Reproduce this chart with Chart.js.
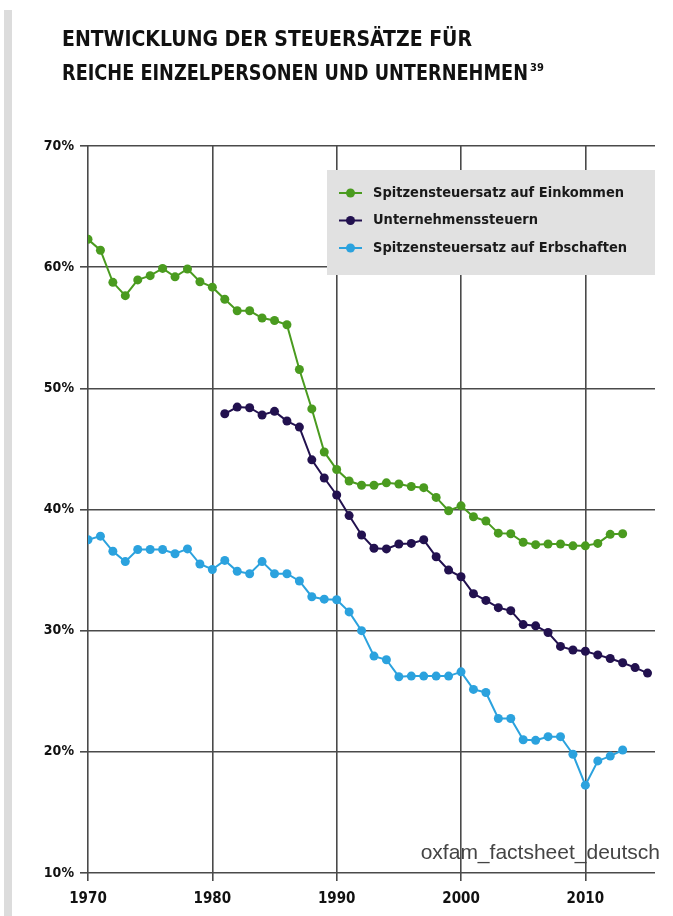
<!DOCTYPE html>
<html>
<head>
<meta charset="utf-8">
<script src="https://cdn.jsdelivr.net/npm/chart.js@4"></script>
<style>
  html, body { margin: 0; padding: 0; background: #fff; }
  #wrap { position: relative; width: 673px; height: 916px; }
  #bar { position: absolute; left: 4px; top: 10px; bottom: 0; width: 8px; background: #dcdcdc; }
  canvas { position: absolute; left: 0; top: 0; }
</style>
</head>
<body>
<div id="wrap">
  <div id="bar"></div>
  <canvas id="taxChart" width="673" height="916"></canvas>
</div>
<script>
// Jahre und Steuersätze (in %)
const years = [
  1970, 1971, 1972, 1973, 1974, 1975, 1976, 1977, 1978, 1979,
  1980, 1981, 1982, 1983, 1984, 1985, 1986, 1987, 1988, 1989,
  1990, 1991, 1992, 1993, 1994, 1995, 1996, 1997, 1998, 1999,
  2000, 2001, 2002, 2003, 2004, 2005, 2006, 2007, 2008, 2009,
  2010, 2011, 2012, 2013, 2014, 2015
];

const einkommen = [
  62.3, 61.4, 58.75, 57.65, 58.95, 59.3, 59.9, 59.2, 59.85, 58.8,
  58.35, 57.35, 56.4, 56.4, 55.8, 55.6, 55.25, 51.55, 48.3, 44.75,
  43.3, 42.35, 42.0, 42.0, 42.2, 42.1, 41.9, 41.8, 41.0, 39.9,
  40.3, 39.4, 39.05, 38.05, 38.0, 37.3, 37.1, 37.15, 37.15, 37.0,
  37.0, 37.2, 37.95, 38.0, null, null
];

const unternehmen = [
  null, null, null, null, null, null, null, null, null, null,
  null, 47.9, 48.45, 48.4, 47.8, 48.1, 47.3, 46.8, 44.1, 42.6,
  41.2, 39.5, 37.9, 36.8, 36.75, 37.15, 37.2, 37.5, 36.1, 35.0,
  34.45, 33.05, 32.5, 31.9, 31.65, 30.5, 30.4, 29.85, 28.7, 28.4,
  28.3, 28.0, 27.7, 27.35, 26.95, 26.5
];

const erbschaften = [
  37.5, 37.8, 36.55, 35.7, 36.7, 36.7, 36.7, 36.35, 36.75, 35.5,
  35.05, 35.8, 34.9, 34.7, 35.7, 34.7, 34.7, 34.1, 32.8, 32.6,
  32.55, 31.55, 30.0, 27.9, 27.6, 26.2, 26.25, 26.25, 26.25, 26.25,
  26.6, 25.15, 24.9, 22.75, 22.75, 21.0, 20.95, 21.25, 21.25, 19.8,
  17.25, 19.25, 19.65, 20.15, null, null
];

const seriesNames  = ['Spitzensteuersatz auf Einkommen', 'Unternehmenssteuern', 'Spitzensteuersatz auf Erbschaften'];
const seriesColors = ['#4a9b1f', '#22114f', '#2ba2de'];
const titleLines   = ['ENTWICKLUNG DER STEUERSÄTZE FÜR', 'REICHE EINZELPERSONEN UND UNTERNEHMEN'];
const titleNote    = '39';
const sourceText   = 'oxfam_factsheet_deutsch';

const condensed = "'Liberation Sans Narrow', 'DejaVu Sans Condensed', sans-serif";
const gridCol   = '#4a4a4a';

const toPoints = vals => years.map((y, i) => ({ x: y, y: vals[i] }));

// Titel, Legende und Quelle direkt auf die Leinwand
const decoPlugin = {
  id: 'deco',
  afterDraw(chart) {
    const c = chart.ctx;
    c.save();
    c.fillStyle = '#111';
    c.textBaseline = 'alphabetic';
    c.textAlign = 'left';
    c.font = "bold 22px " + condensed;
    // etwas schmaler setzen, die Vorlage nutzt eine engere Schrift
    c.fillText(titleLines[0], 62, 46, 410);
    c.fillText(titleLines[1], 62, 80, 466);
    c.font = "bold 11px " + condensed;
    c.fillText(titleNote, 62 + 466 + 2, 71);

    // Legende
    const bx = 327, by = 170, bw = 328, bh = 105;
    c.fillStyle = '#e1e1e1';
    c.fillRect(bx, by, bw, bh);
    chart.data.datasets.forEach((ds, i) => {
      const cy = 193 + i * 27.5;
      c.strokeStyle = ds.borderColor;
      c.lineWidth = 2;
      c.beginPath();
      c.moveTo(339, cy);
      c.lineTo(362, cy);
      c.stroke();
      c.fillStyle = ds.borderColor;
      c.beginPath();
      c.arc(350.5, cy, 4.5, 0, Math.PI * 2);
      c.fill();
      c.fillStyle = '#1a1a1a';
      c.font = "bold 14.5px " + condensed;
      c.textBaseline = 'middle';
      c.fillText(ds.label, 373, cy);
    });

    // Quelle
    c.fillStyle = '#444';
    c.font = "21px 'Liberation Sans', Arial, sans-serif";
    c.textAlign = 'right';
    c.textBaseline = 'alphabetic';
    c.fillText(sourceText, 660, 859);
    c.restore();
  }
};

new Chart(document.getElementById('taxChart'), {
  type: 'line',
  data: {
    datasets: [einkommen, unternehmen, erbschaften].map((vals, i) => ({
      label: seriesNames[i],
      data: toPoints(vals),
      borderColor: seriesColors[i],
      backgroundColor: seriesColors[i],
      borderWidth: 2,
      pointRadius: 4.5,
      pointBorderWidth: 0,
      pointBackgroundColor: seriesColors[i],
      tension: 0,
      spanGaps: false
    }))
  },
  options: {
    responsive: false,
    animation: false,
    layout: { padding: { top: 146, right: 18, left: 0, bottom: 0 } },
    plugins: {
      legend: { display: false },
      tooltip: { enabled: false }
    },
    scales: {
      x: {
        type: 'linear',
        min: 1970,
        max: 2015.6,
        afterFit: s => { s.height = 43; },
        ticks: {
          stepSize: 10,
          includeBounds: false,
          padding: 9,
          maxRotation: 0,
          color: '#111',
          font: { family: condensed, size: 15, weight: 'bold' },
          callback: v => String(v)
        },
        grid: { color: gridCol, lineWidth: 1.6, tickLength: 8 },
        border: { display: false }
      },
      y: {
        min: 10,
        max: 70,
        afterFit: s => { s.width = 88; },
        ticks: {
          stepSize: 10,
          padding: 6,
          color: '#111',
          font: { family: condensed, size: 14, weight: 'bold' },
          callback: v => v + '%'
        },
        grid: { color: gridCol, lineWidth: 1.6, tickLength: 8 },
        border: { display: false }
      }
    }
  },
  plugins: [decoPlugin]
});
</script>
</body>
</html>
